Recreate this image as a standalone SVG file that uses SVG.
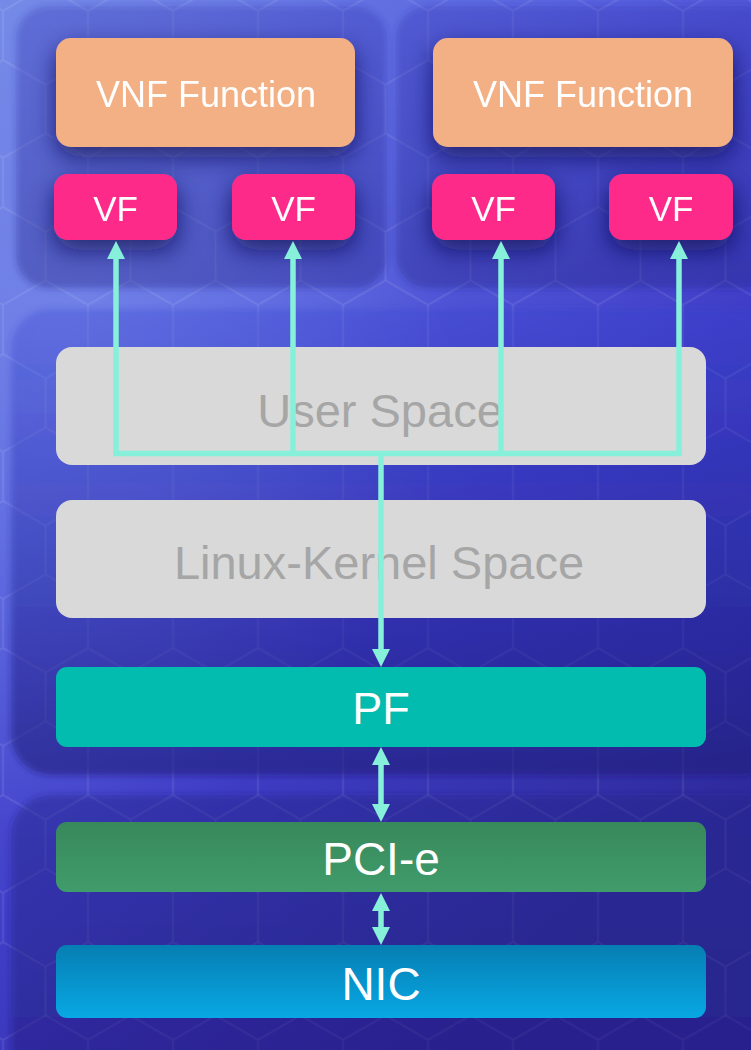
<svg xmlns="http://www.w3.org/2000/svg" width="751" height="1050" viewBox="0 0 751 1050">
<defs>
<style>
.lbl{font-family:"Liberation Sans",Arial,sans-serif;text-anchor:middle;fill:#ffffff}
.gray{fill:#A6A6A6}
.conn{stroke:#86F0DA;stroke-width:5.5;fill:none}
.cont{filter:url(#soft)}
.node{filter:url(#shadow)}
</style>
<linearGradient id="bg" x1="0" y1="0" x2="0.6" y2="1">
<stop offset="0" stop-color="#7288E6"/>
<stop offset="0.35" stop-color="#5862DE"/>
<stop offset="0.65" stop-color="#403EC8"/>
<stop offset="1" stop-color="#2E2A9C"/>
</linearGradient>
<radialGradient id="glow" cx="0.1" cy="0.3" r="0.5">
<stop offset="0" stop-color="#8296EE" stop-opacity="0.5"/>
<stop offset="1" stop-color="#8296EE" stop-opacity="0"/>
</radialGradient>
<linearGradient id="contTop" x1="0" y1="0" x2="0" y2="1">
<stop offset="0" stop-color="#2B33B0" stop-opacity="0.3"/>
<stop offset="1" stop-color="#20248A" stop-opacity="0.4"/>
</linearGradient>
<linearGradient id="contMid" x1="0" y1="0" x2="0" y2="1">
<stop offset="0" stop-color="#3440D0" stop-opacity="0.3"/>
<stop offset="1" stop-color="#1C1A78" stop-opacity="0.6"/>
</linearGradient>
<linearGradient id="contBot" x1="0" y1="0" x2="0" y2="1">
<stop offset="0" stop-color="#22208A" stop-opacity="0.45"/>
<stop offset="1" stop-color="#1E1C7C" stop-opacity="0.5"/>
</linearGradient>
<linearGradient id="pcie" x1="0" y1="0" x2="0" y2="1">
<stop offset="0" stop-color="#38885C"/>
<stop offset="1" stop-color="#409C6A"/>
</linearGradient>
<linearGradient id="nic" x1="0" y1="0" x2="0" y2="1">
<stop offset="0" stop-color="#067EB3"/>
<stop offset="1" stop-color="#08A8E4"/>
</linearGradient>
<pattern id="hex" patternUnits="userSpaceOnUse" x="-39.5" y="35.5" width="85" height="147">
<path d="M42.5,0 V24.5 L85,49 V98 L42.5,122.5 L0,98 V49 L42.5,24.5 M42.5,122.5 V147" fill="none" stroke="#ffffff" stroke-opacity="0.12" stroke-width="1.5"/>
</pattern>
<filter id="soft" x="-10%" y="-10%" width="120%" height="120%">
<feGaussianBlur stdDeviation="3"/>
</filter>
<filter id="shadow" x="-25%" y="-40%" width="150%" height="200%">
<feDropShadow dx="0" dy="10" stdDeviation="12" flood-color="#161650" flood-opacity="0.7"/>
</filter>
<marker id="ah" viewBox="0 -9 18 18" refX="0" refY="0" markerWidth="18" markerHeight="18" markerUnits="userSpaceOnUse" orient="auto-start-reverse">
<path d="M0,-9 L18,0 L0,9 z" fill="#86F0DA"/>
</marker>
</defs>

<rect width="751" height="1050" fill="url(#bg)"/>
<rect width="751" height="1050" fill="url(#glow)"/>
<rect width="751" height="1050" fill="url(#hex)"/>

<g id="containers">
<rect class="cont" x="16" y="6" width="371" height="282" rx="32" fill="url(#contTop)"/>
<rect class="cont" x="396" y="6" width="380" height="282" rx="32" fill="url(#contTop)"/>
<rect class="cont" x="11" y="309" width="770" height="466" rx="40" fill="url(#contMid)"/>
<rect class="cont" x="11" y="795" width="770" height="290" rx="40" fill="url(#contBot)"/>
</g>

<g id="vnf1" class="node">
<rect x="56" y="38" width="299" height="109" rx="15" fill="#F3B084"/>
<text class="lbl" x="206" y="107" font-size="36">VNF Function</text>
</g>
<g id="vnf2" class="node">
<rect x="433" y="38" width="300" height="109" rx="15" fill="#F3B084"/>
<text class="lbl" x="583" y="107" font-size="36">VNF Function</text>
</g>
<g id="vf1" class="node">
<rect x="54" y="174" width="123" height="66" rx="14" fill="#FE2C8A"/>
<text class="lbl" x="115.5" y="221" font-size="35">VF</text>
</g>
<g id="vf2" class="node">
<rect x="232" y="174" width="123" height="66" rx="14" fill="#FE2C8A"/>
<text class="lbl" x="293.5" y="221" font-size="35">VF</text>
</g>
<g id="vf3" class="node">
<rect x="432" y="174" width="123" height="66" rx="14" fill="#FE2C8A"/>
<text class="lbl" x="493.5" y="221" font-size="35">VF</text>
</g>
<g id="vf4" class="node">
<rect x="609" y="174" width="124" height="66" rx="14" fill="#FE2C8A"/>
<text class="lbl" x="671" y="221" font-size="35">VF</text>
</g>
<g id="userspace">
<rect x="56" y="347" width="650" height="118" rx="16" fill="#D9D9D9"/>
<text class="lbl gray" x="380" y="427" font-size="47">User Space</text>
</g>
<g id="kernelspace">
<rect x="56" y="500" width="650" height="118" rx="16" fill="#D9D9D9"/>
<text class="lbl gray" x="379" y="579" font-size="47">Linux-Kernel Space</text>
</g>
<g id="pf">
<rect x="56" y="667" width="650" height="80" rx="11" fill="#02BCB0"/>
<text class="lbl" x="381" y="724" font-size="45">PF</text>
</g>
<g id="pcie">
<rect x="56" y="822" width="650" height="70" rx="11" fill="url(#pcie)"/>
<text class="lbl" x="381" y="875" font-size="46" fill="#F2F2F2">PCI-e</text>
</g>
<g id="nic">
<rect x="56" y="945" width="650" height="73" rx="11" fill="url(#nic)"/>
<text class="lbl" x="381" y="1000" font-size="46" fill="#EEEEEE">NIC</text>
</g>

<g id="connectors">
<line class="conn" x1="113.25" y1="453.5" x2="681.75" y2="453.5"/>
<line class="conn" x1="116" y1="456" x2="116" y2="259" marker-end="url(#ah)"/>
<line class="conn" x1="293" y1="456" x2="293" y2="259" marker-end="url(#ah)"/>
<line class="conn" x1="501" y1="456" x2="501" y2="259" marker-end="url(#ah)"/>
<line class="conn" x1="679" y1="456" x2="679" y2="259" marker-end="url(#ah)"/>
<line class="conn" x1="381" y1="451" x2="381" y2="649" marker-end="url(#ah)"/>
<line class="conn" x1="381" y1="765" x2="381" y2="804" marker-start="url(#ah)" marker-end="url(#ah)"/>
<line class="conn" x1="381" y1="911" x2="381" y2="927" marker-start="url(#ah)" marker-end="url(#ah)"/>
</g>
</svg>
